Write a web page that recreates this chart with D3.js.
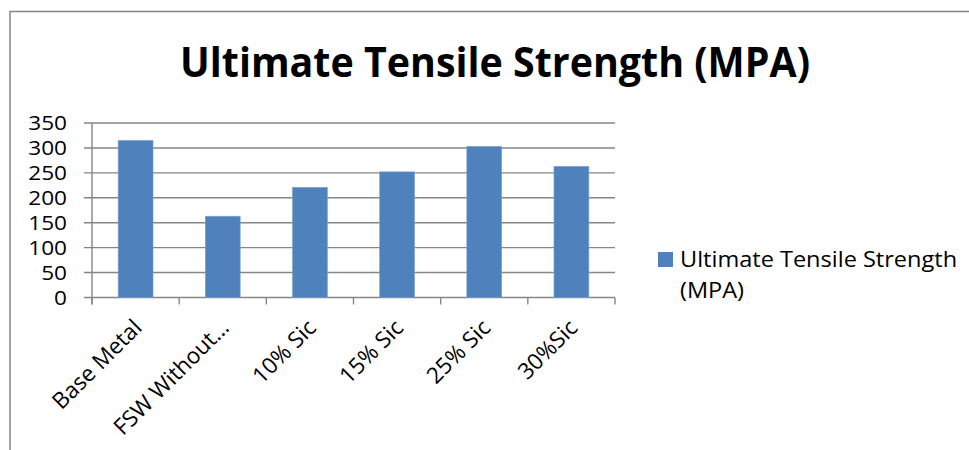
<!DOCTYPE html>
<html>
<head>
<meta charset="utf-8">
<script src="https://cdn.jsdelivr.net/npm/d3@7"></script>
<style>
  html, body { margin: 0; padding: 0; background: #fff; }
  svg { display: block; }
  text { font-family: "Open Sans", "Noto Sans", sans-serif; fill: #000; }
</style>
</head>
<body>
<svg id="chart" width="969" height="450"></svg>
<script>
// Chart data
const categories = ["Base Metal", "FSW Without…", "10% Sic", "15% Sic", "25% Sic", "30%Sic"];
const values = [315, 163, 221, 252, 303, 263];
const yTicks = [0, 50, 100, 150, 200, 250, 300, 350];
const seriesName = "Ultimate Tensile Strength (MPA)";
const legendLines = ["Ultimate Tensile Strength", "(MPA)"];

const svg = d3.select("#chart");
const W = 969, H = 450;
const plot = { left: 92, right: 615, top: 123, bottom: 297.5 };
const gridColor = "#868686";
const barColor = "#4F81BD";

// Outer chart frame
svg.append("rect")
  .attr("x", 10).attr("y", 11.5)
  .attr("width", W + 20).attr("height", H + 20)
  .attr("fill", "none").attr("stroke", gridColor).attr("stroke-width", 1.5);

// Title
svg.append("text")
  .attr("x", 180).attr("y", 77)
  .attr("font-size", 42).attr("font-weight", 700)
  .attr("textLength", 630).attr("lengthAdjust", "spacingAndGlyphs")
  .text(seriesName);

const x = d3.scaleBand()
  .domain(categories)
  .range([plot.left, plot.right])
  .paddingInner(0.6).paddingOuter(0.3);

const y = d3.scaleLinear()
  .domain([0, 350])
  .range([plot.bottom, plot.top]);

// Horizontal gridlines with short outside ticks
svg.append("g").selectAll("line.grid")
  .data(yTicks)
  .join("line")
  .attr("class", "grid")
  .attr("x1", plot.left - 8).attr("x2", plot.right)
  .attr("y1", d => y(d)).attr("y2", d => y(d))
  .attr("stroke", gridColor).attr("stroke-width", 1.4);

// Vertical axis line
svg.append("line")
  .attr("x1", plot.left).attr("x2", plot.left)
  .attr("y1", y(350)).attr("y2", plot.bottom + 7)
  .attr("stroke", gridColor).attr("stroke-width", 1.4);

// Category boundary ticks under the baseline
const step = x.step();
const x0 = plot.left;
svg.selectAll("line.ctick")
  .data(d3.range(categories.length + 1))
  .join("line")
  .attr("class", "ctick")
  .attr("x1", i => x0 + i * step).attr("x2", i => x0 + i * step)
  .attr("y1", plot.bottom).attr("y2", plot.bottom + 7)
  .attr("stroke", gridColor).attr("stroke-width", 1.4);

// Y tick labels (slightly widened glyphs)
svg.selectAll("text.ylab")
  .data(yTicks)
  .join("text")
  .attr("class", "ylab")
  .attr("text-anchor", "end")
  .attr("font-size", 19.5)
  .attr("transform", d => `translate(67,${y(d)}) scale(1.16,1)`)
  .attr("dy", "0.36em")
  .text(d => d);

// Bars
svg.selectAll("rect.bar")
  .data(values)
  .join("rect")
  .attr("class", "bar")
  .attr("x", (d, i) => x(categories[i]))
  .attr("y", d => y(d))
  .attr("width", x.bandwidth())
  .attr("height", d => y(0) - y(d))
  .attr("fill", barColor)
  .attr("stroke", "#7a9fd0").attr("stroke-width", 0.6);

// Rotated category labels
svg.selectAll("text.xlab")
  .data(categories)
  .join("text")
  .attr("class", "xlab")
  .attr("text-anchor", "end")
  .attr("font-size", 22.5)
  .attr("transform", d => `translate(${x(d) + x.bandwidth() / 2 + 2},${plot.bottom + 26}) rotate(-45)`)
  .attr("dy", "0.35em")
  .text(d => d);

// Legend
const lg = svg.append("g");
lg.append("rect")
  .attr("x", 658).attr("y", 252)
  .attr("width", 15).attr("height", 15)
  .attr("fill", barColor);
lg.selectAll("text")
  .data(legendLines)
  .join("text")
  .attr("font-size", 22)
  .attr("transform", (d, i) => `translate(680,${267 + i * 31}) scale(1.07,1)`)
  .text(d => d);
</script>
</body>
</html>
